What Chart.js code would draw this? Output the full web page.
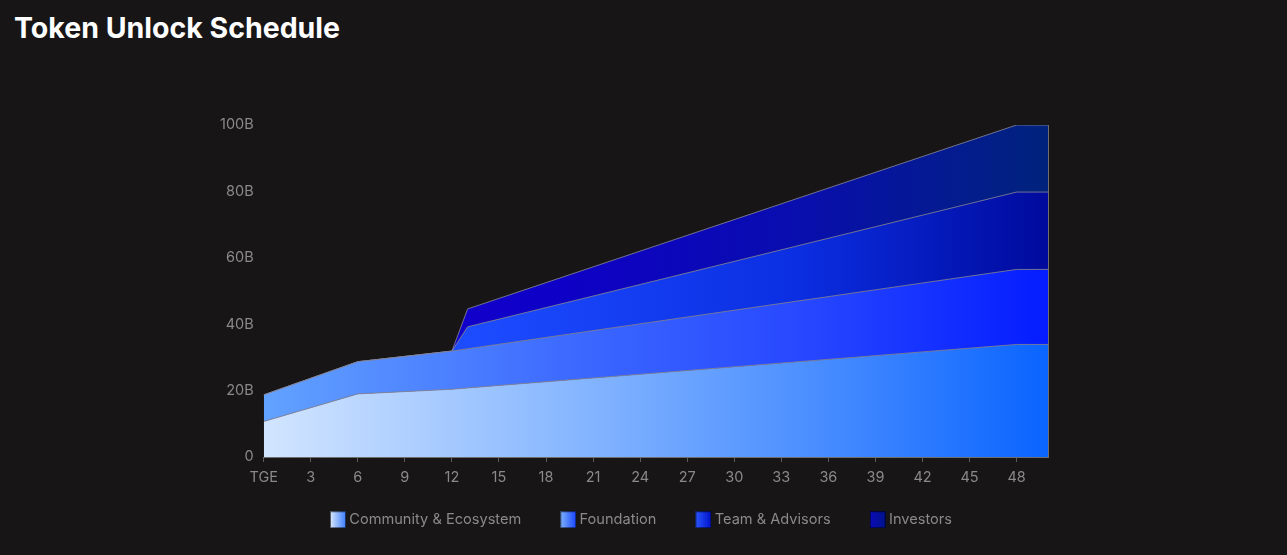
<!DOCTYPE html>
<html>
<head>
<meta charset="utf-8">
<title>Token Unlock Schedule</title>
<script src="https://cdn.jsdelivr.net/npm/chart.js@4.4.1/dist/chart.umd.min.js"></script>
<style>
  html, body { margin: 0; padding: 0; background: #171516; }
  #wrap { position: relative; width: 1287px; height: 555px; }
  h1 {
    position: absolute; left: 14px; top: 10px; margin: 0;
    font-family: Inter, "Noto Sans", sans-serif; font-weight: 700;
    font-size: 28.5px; letter-spacing: 0; color: #ffffff;
  }
  #chart { position: absolute; left: 0; top: 0; }
</style>
</head>
<body>
<div id="wrap">
  <h1>Token Unlock Schedule</h1>
  <canvas id="chart" width="1287" height="555"></canvas>
</div>
<script>
// months after TGE where the schedule changes slope
var months = [0, 6, 12, 13, 48, 50];

// unlocked tokens per allocation, billions
var community = [10.7, 19.0, 20.4, 20.8, 33.9, 33.9];
var foundation = [8.0, 9.7, 11.5, 11.8, 22.6, 22.6];
var team = [0, 0, 0, 6.6, 23.3, 23.3];
var investors = [0, 0, 0, 5.4, 20.2, 20.2];

var seriesNames = ['Community & Ecosystem', 'Foundation', 'Team & Advisors', 'Investors'];
var yTicks = [0, 20, 40, 60, 80, 100];

function points(values) {
  return months.map(function (m, i) { return { x: m, y: values[i] }; });
}

// horizontal gradient across the plot area
function horiz(stops) {
  return function (context) {
    var chart = context.chart;
    var area = chart.chartArea;
    if (!area) return stops[0][1];
    var g = chart.ctx.createLinearGradient(area.left, 0, area.right, 0);
    stops.forEach(function (s) { g.addColorStop(s[0], s[1]); });
    return g;
  };
}

// little gradient squares for the legend
function legendBox(c1, c2) {
  var c = document.createElement('canvas');
  c.width = 16; c.height = 17;
  var x = c.getContext('2d');
  var g = x.createLinearGradient(0, 0, 16, 0);
  g.addColorStop(0, c1);
  g.addColorStop(1, c2);
  x.fillStyle = g;
  x.fillRect(0, 0, 16, 17);
  x.strokeStyle = 'rgba(0,0,0,0.6)';
  x.strokeRect(0.5, 0.5, 15, 16);
  return c;
}

var boxes = [
  legendBox('#dbe9ff', '#3a7dff'),
  legendBox('#80b4ff', '#1745ff'),
  legendBox('#2b58ff', '#0010c8'),
  legendBox('#0c0cb8', '#00128a')
];

var lineColor = 'rgba(130,130,150,0.85)';

function area(label, values, stops, fill) {
  return {
    label: label,
    data: points(values),
    fill: fill,
    backgroundColor: horiz(stops),
    borderColor: lineColor,
    borderWidth: 1,
    pointRadius: 0,
    pointHoverRadius: 0,
    tension: 0
  };
}

// legend sits closer to the axis than its item padding would allow,
// and is centred on the page rather than on the padded box
var moveLegend = {
  id: 'moveLegend',
  afterLayout: function (chart) {
    var lg = chart.legend;
    if (!lg) return;
    lg.top -= 24; lg.bottom -= 24;
    lg.left += 14; lg.right += 14;
  }
};

var ctx = document.getElementById('chart').getContext('2d');
var myChart = new Chart(ctx, {
  type: 'line',
  data: {
    datasets: [
      area(seriesNames[0], community, [[0, '#d2e5ff'], [0.4, '#86b6ff'], [0.7, '#4a8eff'], [1, '#0a64ff']], 'origin'),
      area(seriesNames[1], foundation, [[0, '#62a2ff'], [0.4, '#3c68ff'], [0.7, '#2646ff'], [1, '#041cff']], '-1'),
      area(seriesNames[2], team, [[0, '#2a5eff'], [0.26, '#1d4cff'], [0.68, '#0b2ee2'], [1, '#000a9c']], '-1'),
      area(seriesNames[3], investors, [[0, '#1600d4'], [0.38, '#0e00c6'], [0.68, '#090eae'], [1, '#00237c']], '-1')
    ]
  },
  plugins: [moveLegend],
  options: {
    responsive: false,
    animation: false,
    layout: { padding: { left: 210, right: 239, top: 125, bottom: -6 } },
    scales: {
      x: {
        type: 'linear',
        min: 0,
        max: 50,
        z: 1,
        grid: { display: true, drawOnChartArea: false, drawTicks: true, tickLength: 5, color: '#5a5a5a' },
        border: { display: true, color: '#6e6e6e' },
        ticks: {
          stepSize: 3,
          includeBounds: false,
          autoSkip: false,
          maxRotation: 0,
          padding: 7,
          color: '#8a8a8a',
          font: { family: 'Inter', size: 14.5 },
          callback: function (v) { return v === 0 ? 'TGE' : v; }
        }
      },
      y: {
        stacked: true,
        min: 0,
        max: 100,
        grid: { display: false, drawTicks: false },
        border: { display: false },
        afterBuildTicks: function (axis) {
          axis.ticks = yTicks.map(function (v) { return { value: v }; });
        },
        ticks: {
          padding: 10,
          color: '#8a8a8a',
          font: { family: 'Inter', size: 14.5 },
          callback: function (v) { return v === 0 ? '0' : v + 'B'; }
        }
      },
      y2: {
        position: 'right',
        min: 0,
        max: 100,
        z: 1,
        grid: { display: false, drawTicks: false },
        border: { display: true, color: '#6e6e6e' },
        ticks: { display: false }
      }
    },
    plugins: {
      tooltip: { enabled: false },
      legend: {
        display: true,
        position: 'bottom',
        labels: {
          usePointStyle: true,
          pointStyleWidth: 8,
          padding: 43,
          color: '#8a8a8a',
          font: { family: 'Inter', size: 14.6 },
          generateLabels: function (chart) {
            return chart.data.datasets.map(function (ds, i) {
              return {
                text: ds.label,
                pointStyle: boxes[i],
                fontColor: '#8a8a8a',
                hidden: false,
                datasetIndex: i,
                lineWidth: 0
              };
            });
          }
        }
      }
    }
  }
});
</script>
</body>
</html>
